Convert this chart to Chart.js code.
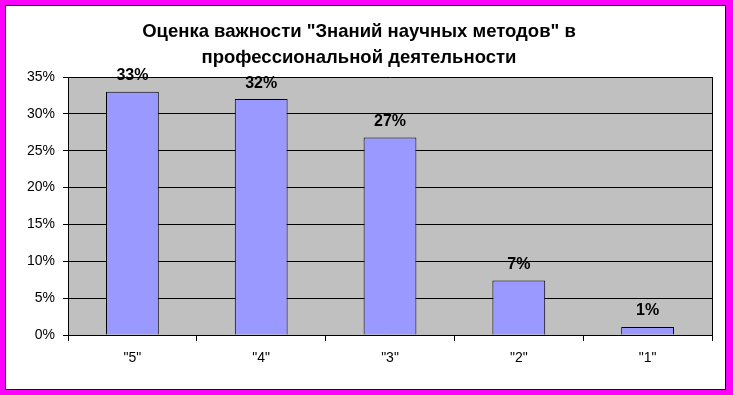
<!DOCTYPE html>
<html>
<head>
<meta charset="utf-8">
<script src="https://cdn.jsdelivr.net/npm/chart.js"></script>
<style>
  body { margin: 0; background: #fff; }
  canvas { display: block; }
</style>
</head>
<body>
<canvas id="chart" width="733" height="395"></canvas>
<script>
// Datos del gráfico
var categories = ['"5"', '"4"', '"3"', '"2"', '"1"'];
var values = [33, 32, 26.8, 7.4, 1.1]; // porcentajes
var yTicks = [0, 5, 10, 15, 20, 25, 30, 35];
var titleLines = ['Оценка важности "Знаний научных методов" в', 'профессиональной деятельности'];

var FONT = '"Liberation Sans", Arial, sans-serif';

// Marco rosa, fondo gris del área de trazado y borde negro
var framePlugin = {
  id: 'frame',
  beforeDraw: function (chart) {
    var c = chart.ctx, a = chart.chartArea;
    c.save();
    c.fillStyle = '#FF00FF';
    c.fillRect(0, 0, chart.width, chart.height);
    c.fillStyle = '#FFFFFF';
    c.fillRect(5, 5, 721, 385);
    c.strokeStyle = '#000';
    c.lineWidth = 1;
    c.strokeRect(5.5, 5.5, 720, 384);
    c.fillStyle = '#C0C0C0';
    c.fillRect(a.left, a.top, a.right - a.left, a.bottom - a.top);
    c.restore();
  },
  afterDraw: function (chart) {
    var c = chart.ctx, a = chart.chartArea;
    c.save();
    c.strokeStyle = '#000';
    c.lineWidth = 1;
    c.beginPath();
    c.moveTo(Math.round(a.right) + 0.5, a.top);
    c.lineTo(Math.round(a.right) + 0.5, a.bottom);
    c.stroke();
    c.restore();
  }
};

// Etiquetas de valor encima de cada barra
var labelsPlugin = {
  id: 'valueLabels',
  afterDatasetsDraw: function (chart) {
    var c = chart.ctx;
    var meta = chart.getDatasetMeta(0);
    c.save();
    c.font = 'bold 16px ' + FONT;
    c.fillStyle = '#000';
    c.textAlign = 'center';
    c.textBaseline = 'middle';
    meta.data.forEach(function (bar, i) {
      c.fillText(Math.round(values[i]) + '%', bar.x, bar.y - 16);
    });
    c.restore();
  }
};

new Chart(document.getElementById('chart'), {
  type: 'bar',
  data: {
    labels: categories,
    datasets: [{
      data: values,
      backgroundColor: '#9999FF',
      borderColor: '#000000',
      borderWidth: 1,
      categoryPercentage: 1,
      barPercentage: 0.41
    }]
  },
  options: {
    responsive: false,
    animation: false,
    devicePixelRatio: 1,
    layout: { padding: { left: 6, right: 21, top: 6, bottom: 6 } },
    plugins: {
      legend: { display: false },
      tooltip: { enabled: false },
      title: {
        display: true,
        text: titleLines,
        color: '#000',
        font: { family: FONT, size: 18.5, weight: 'bold', lineHeight: 26 / 18.5 },
        padding: { top: 13, bottom: 6 }
      }
    },
    scales: {
      x: {
        grid: { offset: true, drawOnChartArea: false, drawTicks: true, tickLength: 6, color: '#000' },
        border: { display: true, color: '#000' },
        ticks: { color: '#000', font: { family: FONT, size: 14 }, padding: 9 },
        afterFit: function (s) { s.height = 54; }
      },
      y: {
        min: 0,
        max: 35,
        afterBuildTicks: function (s) { s.ticks = yTicks.map(function (v) { return { value: v }; }); },
        grid: { color: '#000', tickLength: 5 },
        border: { display: true, color: '#000' },
        ticks: {
          color: '#000',
          font: { family: FONT, size: 14 },
          padding: 8,
          callback: function (v) { return v + '%'; }
        },
        afterFit: function (s) { s.width = 62; }
      }
    }
  },
  plugins: [framePlugin, labelsPlugin]
});
</script>
</body>
</html>
